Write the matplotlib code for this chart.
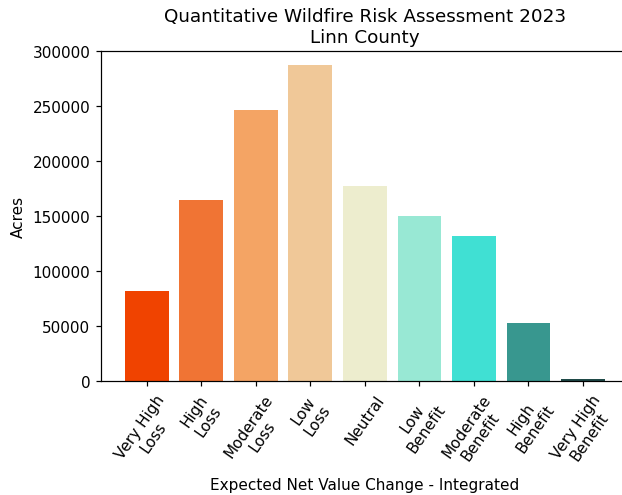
import matplotlib
matplotlib.use("Agg")
import matplotlib.pyplot as plt

categories = ["Very High\nLoss", "High\nLoss", "Moderate\nLoss", "Low\nLoss", "Neutral",
              "Low\nBenefit", "Moderate\nBenefit", "High\nBenefit", "Very High\nBenefit"]
acres = [81800, 164500, 246300, 287300, 177300, 149700, 131800, 52700, 2100]
colors = ["#f04300", "#f07434", "#f4a464", "#f0c898", "#ededce",
          "#98e8d4", "#40e0d3", "#38978f", "#1f4a48"]

DPI = 110
fig = plt.figure(figsize=(622/DPI, 496/DPI), dpi=DPI)
ax = fig.add_axes([101/622, (496-382)/496, (628.6-101)/622, 330/496])
x = list(range(len(categories)))
ax.bar(x, acres, color=colors, width=0.8)
ax.set_xticks(x)
ax.set_xticklabels(categories, rotation=55, ha="center", rotation_mode="default")
ax.set_ylim(0, 300000)
ax.spines["right"].set_visible(False)
ax.set_ylabel("Acres")
ax.set_xlabel("Expected Net Value Change - Integrated")
ax.set_title("Quantitative Wildfire Risk Assessment 2023\nLinn County", fontsize=12)
fig.savefig("out.png", dpi=DPI)
